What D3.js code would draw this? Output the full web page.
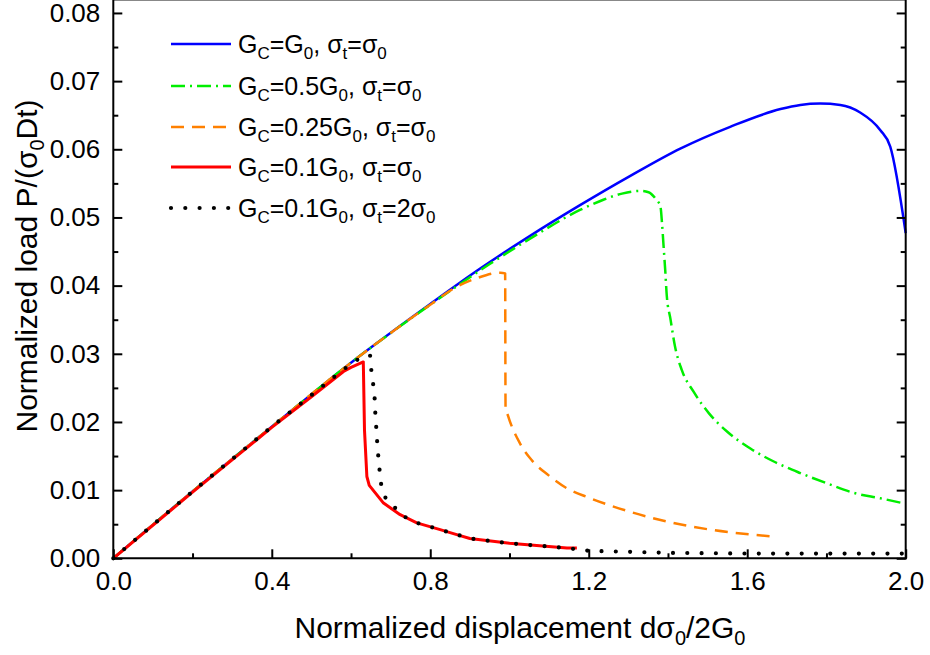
<!DOCTYPE html>
<html>
<head>
<meta charset="utf-8">
<script src="https://cdn.jsdelivr.net/npm/d3@7/dist/d3.min.js"></script>
<style>
  html, body { margin: 0; padding: 0; background: #fff; }
  svg { display: block; font-family: "Liberation Sans", Arial, sans-serif; }
</style>
</head>
<body>
<svg id="chart" width="930" height="655"></svg>
<script>
// ---------- data ----------
const blueX  = [0, 0.2, 0.4, 0.6, 0.8, 0.926, 1.052, 1.178, 1.305, 1.431, 1.557, 1.684, 1.734, 1.784, 1.835, 1.885, 1.936, 1.961, 2.0];
const blueY  = [0, 0.0098, 0.0193, 0.0287, 0.0373, 0.0425, 0.0473, 0.0518, 0.0561, 0.0601, 0.0633, 0.0659, 0.0665, 0.0667, 0.0665, 0.0654, 0.0628, 0.0604, 0.0477];

const greenX = [0, 0.2, 0.4, 0.6, 0.8, 0.951, 1.052, 1.178, 1.237, 1.284, 1.33, 1.351, 1.368, 1.381, 1.385, 1.389, 1.393, 1.397, 1.406, 1.418, 1.435, 1.465, 1.503, 1.549, 1.608, 1.667, 1.734, 1.801, 1.869, 1.936, 2.0];
const greenY = [0, 0.0098, 0.0193, 0.0287, 0.0372, 0.0432, 0.0469, 0.0511, 0.0526, 0.0535, 0.0539, 0.0537, 0.0528, 0.0516, 0.0491, 0.0457, 0.0423, 0.0385, 0.0352, 0.0310, 0.0276, 0.0244, 0.0213, 0.0186, 0.0161, 0.0142, 0.0125, 0.0110, 0.0096, 0.0088, 0.0080];

const orangeX = [0, 0.2, 0.4, 0.6, 0.8, 0.86, 0.918, 0.977, 0.989, 0.99, 0.997, 1.026, 1.056, 1.098, 1.144, 1.2, 1.3, 1.389, 1.507, 1.667];
const orangeY = [0, 0.0098, 0.0193, 0.0287, 0.0372, 0.0396, 0.0411, 0.0419, 0.0418, 0.0222, 0.0208, 0.0169, 0.0144, 0.0122, 0.0103, 0.0089, 0.0069, 0.0055, 0.0042, 0.0032];

const redX = [0, 0.2, 0.4, 0.5, 0.581, 0.6, 0.631, 0.634, 0.640, 0.646, 0.682, 0.724, 0.766, 0.825, 0.871, 0.90, 1.0, 1.145, 1.17];
const redY = [0, 0.0097, 0.0192, 0.0237, 0.0274, 0.0280, 0.0288, 0.0188, 0.0120, 0.0107, 0.0081, 0.0064, 0.0052, 0.0042, 0.0034, 0.0029, 0.0022, 0.0015, 0.0015];

const blackX = [0, 0.2, 0.4, 0.581, 0.623, 0.648, 0.652, 0.659, 0.661, 0.664, 0.667, 0.671, 0.676, 0.688, 0.707, 0.728, 0.766, 0.825, 0.90, 1.0, 1.145, 1.2, 1.4, 1.6, 1.8, 2.0];
const blackY = [0, 0.0098, 0.0193, 0.0277, 0.0294, 0.0298, 0.0271, 0.0243, 0.0216, 0.0189, 0.0162, 0.0135, 0.0109, 0.0087, 0.0077, 0.0063, 0.0052, 0.0042, 0.0029, 0.0022, 0.0015, 0.0011, 0.0008, 0.0007, 0.0007, 0.0007];

const xTicks = [0.0, 0.4, 0.8, 1.2, 1.6, 2.0];
const xMinorTicks = [0.2, 0.6, 1.0, 1.4, 1.8];
const yTicks = [0.00, 0.01, 0.02, 0.03, 0.04, 0.05, 0.06, 0.07, 0.08];
const yMinorTicks = [0.005, 0.015, 0.025, 0.035, 0.045, 0.055, 0.065, 0.075];

// legend labels: [text, isSubscript]
const legendLabels = [
  [["G",0],["C",1],["=G",0],["0",1],[", σ",0],["t",1],["=σ",0],["0",1]],
  [["G",0],["C",1],["=0.5G",0],["0",1],[", σ",0],["t",1],["=σ",0],["0",1]],
  [["G",0],["C",1],["=0.25G",0],["0",1],[", σ",0],["t",1],["=σ",0],["0",1]],
  [["G",0],["C",1],["=0.1G",0],["0",1],[", σ",0],["t",1],["=σ",0],["0",1]],
  [["G",0],["C",1],["=0.1G",0],["0",1],[", σ",0],["t",1],["=2σ",0],["0",1]]
];

const series = [
  {x: blueX,   y: blueY,   color: "#0000ff", width: 2.5, dash: null,        cap: "butt",  smooth: true},
  {x: greenX,  y: greenY,  color: "#00ee00", width: 2.5, dash: "14 5 2 5",  cap: "butt",  smooth: true},
  {x: orangeX, y: orangeY, color: "#ff8000", width: 2.5, dash: "13 8",      cap: "butt",  smooth: true},
  {x: redX,    y: redY,    color: "#ff0000", width: 3,   dash: null,        cap: "butt",  smooth: false},
  {x: blackX,  y: blackY,  color: "#000000", width: 4.2, dash: "0 14.3",    cap: "round", smooth: false}
];

// ---------- layout ----------
const svg = d3.select("#chart");
const pLeft = 113.3, pRight = 905.7, pBottom = 558.3, pTop = 0;
const x = d3.scaleLinear().domain([0, 2]).range([pLeft, pRight]);
const y = d3.scaleLinear().domain([0, 0.0819]).range([pBottom, pTop]);

const smoothLine = d3.line().x(d => x(d[0])).y(d => y(d[1])).curve(d3.curveMonotoneX);
const straightLine = d3.line().x(d => x(d[0])).y(d => y(d[1]));

// curves
const plot = svg.append("g");
series.forEach(s => {
  const pts = s.x.map((v, i) => [v, s.y[i]]);
  plot.append("path")
    .attr("d", (s.smooth ? smoothLine : straightLine)(pts))
    .attr("fill", "none")
    .attr("stroke", s.color)
    .attr("stroke-width", s.width)
    .attr("stroke-linejoin", "round")
    .attr("stroke-linecap", s.cap)
    .attr("stroke-dasharray", s.dash);
});

// ---------- axes ----------
const fontSize = 26;
function styleAxis(g) {
  g.select(".domain").remove();
  g.selectAll(".tick line").attr("stroke", "#000").attr("stroke-width", 2);
  g.selectAll(".tick text").attr("fill", "#000").attr("font-size", fontSize)
    .attr("font-family", '"Liberation Sans", Arial, sans-serif');
}

svg.append("g").attr("transform", `translate(0,${pBottom})`)
  .call(d3.axisBottom(x).tickValues(xTicks).tickFormat(d3.format(".1f")).tickSize(-9).tickPadding(13))
  .call(styleAxis);
svg.append("g").attr("transform", `translate(0,${pBottom})`)
  .call(d3.axisBottom(x).tickValues(xMinorTicks).tickFormat("").tickSize(-5))
  .call(styleAxis);

svg.append("g").attr("transform", `translate(${pLeft},0)`)
  .call(d3.axisLeft(y).tickValues(yTicks).tickFormat(d3.format(".2f")).tickSize(-9).tickPadding(13))
  .call(styleAxis);
svg.append("g").attr("transform", `translate(${pLeft},0)`)
  .call(d3.axisLeft(y).tickValues(yMinorTicks).tickFormat("").tickSize(-5))
  .call(styleAxis);

svg.append("g").attr("transform", `translate(${pRight},0)`)
  .call(d3.axisRight(y).tickValues(yTicks).tickFormat("").tickSize(-9))
  .call(styleAxis);
svg.append("g").attr("transform", `translate(${pRight},0)`)
  .call(d3.axisRight(y).tickValues(yMinorTicks).tickFormat("").tickSize(-5))
  .call(styleAxis);

// frame lines
svg.append("line").attr("x1", pLeft).attr("x2", pRight).attr("y1", 0.5).attr("y2", 0.5)
  .attr("stroke", "#888").attr("stroke-width", 1);
svg.append("line").attr("x1", pLeft).attr("x2", pRight).attr("y1", pBottom).attr("y2", pBottom)
  .attr("stroke", "#000").attr("stroke-width", 2).attr("stroke-linecap", "square");
svg.append("line").attr("x1", pLeft).attr("x2", pLeft).attr("y1", 0).attr("y2", pBottom)
  .attr("stroke", "#000").attr("stroke-width", 2).attr("stroke-linecap", "square");
svg.append("line").attr("x1", pRight).attr("x2", pRight).attr("y1", 0).attr("y2", pBottom)
  .attr("stroke", "#000").attr("stroke-width", 2).attr("stroke-linecap", "square");

// ---------- axis titles ----------
function richText(sel, parts, size, subSize, shift) {
  let sub = false;
  parts.forEach(([t, isSub]) => {
    const ts = sel.append("tspan").text(t);
    if (isSub && !sub) { ts.attr("dy", shift).attr("font-size", subSize); sub = true; }
    else if (isSub && sub) { ts.attr("font-size", subSize); }
    else if (!isSub && sub) { ts.attr("dy", -shift).attr("font-size", size); sub = false; }
    else ts.attr("font-size", size);
  });
}

const xTitle = svg.append("text")
  .attr("x", 520).attr("y", 638).attr("text-anchor", "middle").attr("fill", "#000");
richText(xTitle, [["Normalized displacement dσ",0],["0",1],["/2G",0],["0",1]], 30, 20, 7);

const yTitle = svg.append("text")
  .attr("transform", "translate(37,266) rotate(-90)").attr("text-anchor", "middle").attr("fill", "#000");
richText(yTitle, [["Normalized load P/(σ",0],["0",1],["Dt)",0]], 30, 20, 7);

// ---------- legend ----------
const legendY = [44, 86, 127, 167, 208];
series.forEach((s, i) => {
  const g = svg.append("g");
  g.append("line").attr("x1", 171).attr("x2", 231).attr("y1", legendY[i]).attr("y2", legendY[i])
    .attr("stroke", s.color).attr("stroke-width", s.width)
    .attr("stroke-linecap", s.cap).attr("stroke-dasharray", s.dash);
  const t = g.append("text").attr("x", 238).attr("y", legendY[i] + 9).attr("fill", "#000");
  richText(t, legendLabels[i], 25, 17, 6);
});
</script>
</body>
</html>
